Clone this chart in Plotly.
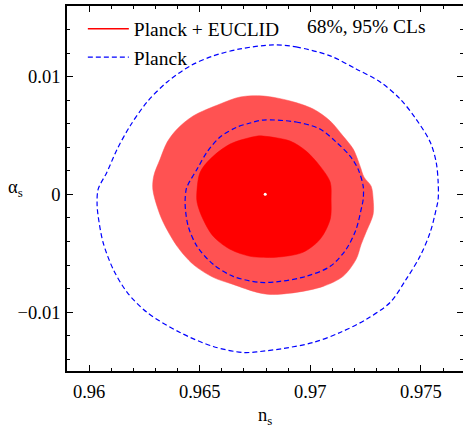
import plotly.graph_objects as go

# ---- data ----
planck_outer_ns = [0.96832, 0.96936, 0.97090, 0.97207, 0.97316, 0.97406, 0.97478, 0.97542, 0.97569, 0.97578,
                   0.97578, 0.97569, 0.97542, 0.97496, 0.97433, 0.97361, 0.97252, 0.97135, 0.97013, 0.96877,
                   0.96773, 0.96696, 0.96561, 0.96411, 0.96262, 0.96172, 0.96109, 0.96063, 0.96041, 0.96036,
                   0.96041, 0.96080, 0.96127, 0.96185, 0.96262, 0.96353, 0.96457, 0.96561, 0.96683, 0.96832]
planck_outer_alpha = [0.012698, 0.012527, 0.011762, 0.010655, 0.009549, 0.008102, 0.006400, 0.004443, 0.002740, 0.001038,
                      -0.000409, -0.001260, -0.003217, -0.005260, -0.007217, -0.009174, -0.010621, -0.011728, -0.012579, -0.013089,
                      -0.013345, -0.013430, -0.012919, -0.011728, -0.010025, -0.008323, -0.006366, -0.004068, -0.001855, -0.000834,
                      0.000443, 0.001864, 0.003847, 0.005804, 0.007847, 0.009549, 0.010911, 0.011762, 0.012357, 0.012698]

planck_inner_ns = [0.96787, 0.96936, 0.97044, 0.97117, 0.97180, 0.97216, 0.97239, 0.97239, 0.97230, 0.97207,
                   0.97162, 0.97090, 0.96981, 0.96863, 0.96773, 0.96651, 0.96561, 0.96488, 0.96448, 0.96434,
                   0.96439, 0.96448, 0.96488, 0.96533, 0.96592, 0.96669, 0.96728, 0.96787]
planck_inner_alpha = [0.006315, 0.006145, 0.005549, 0.004443, 0.003251, 0.002145, 0.000698, -0.000409, -0.001260, -0.002962,
                      -0.004664, -0.006111, -0.006962, -0.007387, -0.007472, -0.006962, -0.005940, -0.004409, -0.002706, -0.000834,
                      0.000443, 0.000868, 0.002145, 0.003591, 0.004868, 0.005719, 0.006060, 0.006315]

euclid95_ns = [0.96787, 0.96909, 0.97013, 0.97090, 0.97148, 0.97194, 0.97225, 0.97243, 0.97275, 0.97284,
               0.97284, 0.97252, 0.97230, 0.97207, 0.97148, 0.97058, 0.96936, 0.96818, 0.96760, 0.96651,
               0.96561, 0.96470, 0.96398, 0.96335, 0.96307, 0.96288, 0.96292, 0.96321, 0.96353, 0.96398,
               0.96470, 0.96592, 0.96683, 0.96787]
euclid95_alpha = [0.008357, 0.007932, 0.007251, 0.006230, 0.004953, 0.003847, 0.002400, 0.001464, 0.000698, -0.000409,
                  -0.001685, -0.003217, -0.004238, -0.005515, -0.006962, -0.007813, -0.008323, -0.008494, -0.008323, -0.007643,
                  -0.007047, -0.005940, -0.004409, -0.002366, -0.001004, 0.000443, 0.001549, 0.002996, 0.004443, 0.005549,
                  0.006655, 0.007677, 0.008272, 0.008357]

euclid68_ns = [0.96787, 0.96909, 0.96981, 0.97044, 0.97090, 0.97094, 0.97090, 0.97044, 0.96967, 0.96845,
               0.96787, 0.96728, 0.96637, 0.96561, 0.96515, 0.96488, 0.96488, 0.96502, 0.96547, 0.96637,
               0.96760, 0.96787]
euclid68_alpha = [0.004953, 0.004528, 0.003677, 0.002400, 0.001038, -0.000409, -0.002111, -0.003813, -0.004919, -0.005345,
                  -0.005345, -0.005260, -0.004664, -0.003557, -0.002111, -0.000664, 0.000443, 0.001889, 0.002996, 0.004272,
                  0.004953, 0.004953]

best_fit_ns = [0.96796]
best_fit_alpha = [0.00001]

x_tickvals = [0.96, 0.965, 0.97, 0.975]
x_ticktext = ["0.96", "0.965", "0.97", "0.975"]
y_tickvals = [-0.01, 0.0, 0.01]
y_ticktext = ["\u22120.01", "0", "0.01"]

FONT = "Liberation Serif, Times New Roman, serif"
LIGHT_RED = "#FF5252"
RED = "#FF0000"
BLUE = "#0000FF"

fig = go.Figure()

fig.add_trace(go.Scatter(x=euclid95_ns, y=euclid95_alpha, mode="lines", fill="toself",
                         fillcolor=LIGHT_RED, line=dict(color=LIGHT_RED, width=0.5, shape="spline", smoothing=0.9),
                         showlegend=False, hoverinfo="skip"))
fig.add_trace(go.Scatter(x=euclid68_ns, y=euclid68_alpha, mode="lines", fill="toself",
                         fillcolor=RED, line=dict(color=RED, width=0.5, shape="spline", smoothing=0.9),
                         showlegend=False, hoverinfo="skip"))
fig.add_trace(go.Scatter(x=planck_outer_ns, y=planck_outer_alpha, mode="lines",
                         line=dict(color=BLUE, width=1.2, dash="5px,3px", shape="spline", smoothing=0.9),
                         showlegend=False, hoverinfo="skip"))
fig.add_trace(go.Scatter(x=planck_inner_ns, y=planck_inner_alpha, mode="lines",
                         line=dict(color=BLUE, width=1.2, dash="5px,3px", shape="spline", smoothing=0.9),
                         showlegend=False, hoverinfo="skip"))
fig.add_trace(go.Scatter(x=best_fit_ns, y=best_fit_alpha, mode="markers",
                         marker=dict(color="white", size=3), showlegend=False, hoverinfo="skip"))

# legend entries
fig.add_trace(go.Scatter(x=[None], y=[None], mode="lines", name="Planck + EUCLID",
                         line=dict(color=RED, width=1.5)))
fig.add_trace(go.Scatter(x=[None], y=[None], mode="lines", name="Planck",
                         line=dict(color=BLUE, width=1.2, dash="5px,3px")))

# secondary y axis only for right-side ticks
fig.add_trace(go.Scatter(x=[None], y=[None], yaxis="y2", showlegend=False, hoverinfo="skip"))

fig.add_annotation(text="68%, 95% CLs", xref="paper", yref="paper", x=0.6, y=0.945,
                   xanchor="left", yanchor="middle", showarrow=False,
                   font=dict(family=FONT, size=19.5, color="black"))
fig.add_annotation(text="n<sub>s</sub>", xref="paper", yref="paper", x=0.5, y=-0.087,
                   xanchor="center", yanchor="top", showarrow=False,
                   font=dict(family=FONT, size=18.5, color="black"))
fig.add_annotation(text="\u03b1<sub>s</sub>", xref="paper", yref="paper", x=-0.155, y=0.50,
                   xanchor="left", yanchor="middle", showarrow=False,
                   font=dict(family=FONT, size=18.5, color="black"))

XRANGE = [0.959, 0.976903]
YRANGE = [-0.015, 0.016]

fig.update_layout(
    width=463, height=427,
    margin=dict(l=67, r=0, t=6, b=56),
    paper_bgcolor="white", plot_bgcolor="white",
    font=dict(family=FONT, size=18.5, color="black"),
    showlegend=True,
    legend=dict(x=0.04, y=0.99, xanchor="left", yanchor="top", bgcolor="rgba(0,0,0,0)",
                itemwidth=41,
                font=dict(family=FONT, size=19.5, color="black"), tracegroupgap=0),
    xaxis=dict(range=XRANGE, showgrid=False, zeroline=False, showline=True, linecolor="black",
               linewidth=1.8, mirror="ticks", ticks="inside", ticklen=6, tickwidth=1, tickcolor="black",
               tickvals=x_tickvals, ticktext=x_ticktext, ticklabelstandoff=3,
               minor=dict(dtick=0.001, tick0=0.96, ticks="inside", ticklen=3.5, tickwidth=1,
                          tickcolor="black", showgrid=False)),
    yaxis=dict(range=YRANGE, showgrid=False, zeroline=False, showline=True, linecolor="black",
               linewidth=1.8, mirror=False, ticks="inside", ticklen=6, tickwidth=1, tickcolor="black",
               tickvals=y_tickvals, ticktext=y_ticktext, ticklabelstandoff=1,
               minor=dict(dtick=0.002, tick0=0.0, ticks="inside", ticklen=3.5, tickwidth=1,
                          tickcolor="black", showgrid=False)),
    yaxis2=dict(range=YRANGE, overlaying="y", side="right", showgrid=False, zeroline=False,
                showline=False, ticks="inside", ticklen=6, tickwidth=1, tickcolor="black",
                tickvals=y_tickvals, showticklabels=False,
                minor=dict(dtick=0.002, tick0=0.0, ticks="inside", ticklen=3.5, tickwidth=1,
                           tickcolor="black", showgrid=False)),
)

fig.write_html("out.html", config={"displayModeBar": False},
               post_script="document.body.style.margin='0';document.body.style.overflow='hidden';")
